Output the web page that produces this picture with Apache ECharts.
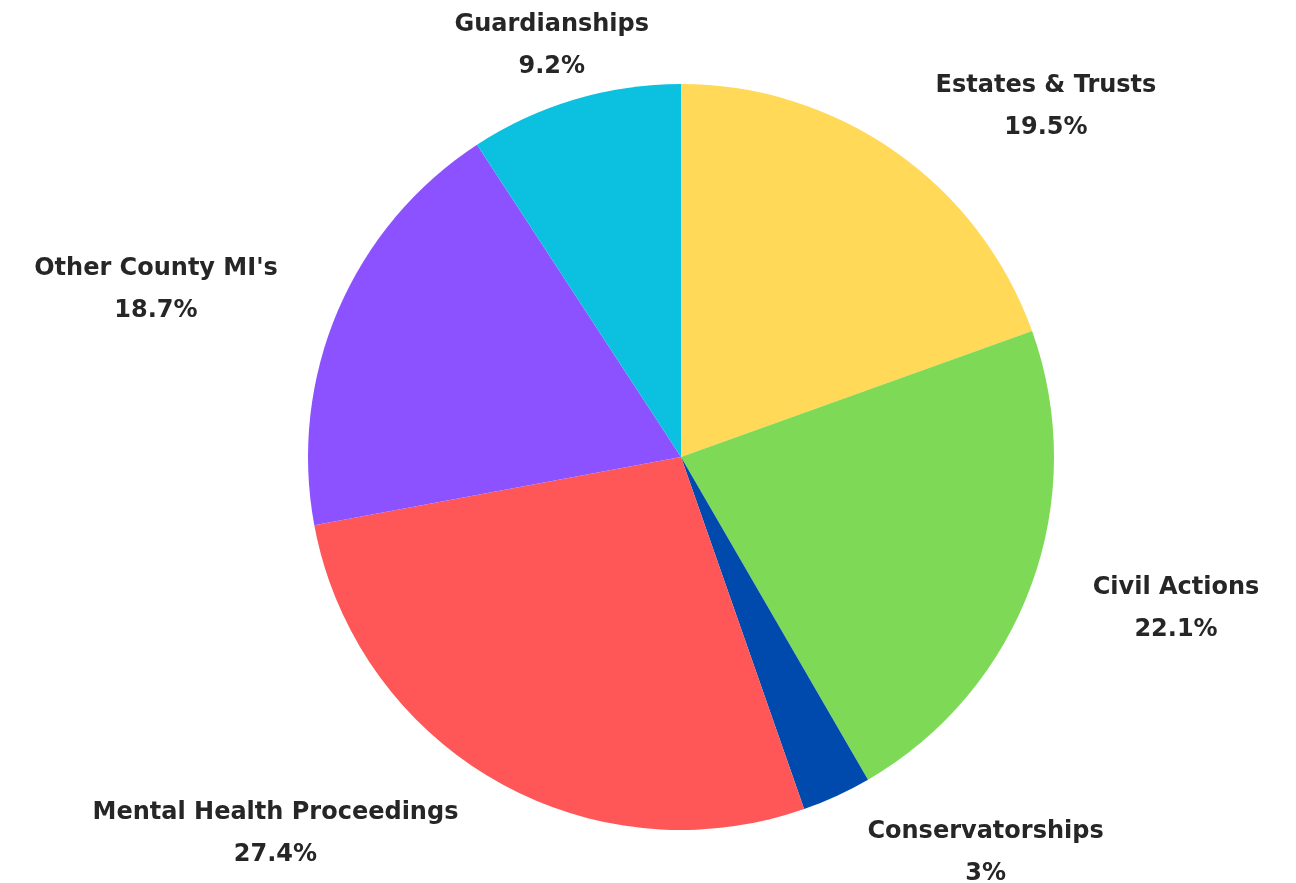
<!DOCTYPE html>
<html>
<head>
<meta charset="utf-8">
<script src="https://cdn.jsdelivr.net/npm/echarts@6/dist/echarts.min.js"></script>
<style>
html,body{margin:0;padding:0;background:#fff;}
#chart{width:1296px;height:883px;}
</style>
</head>
<body>
<div id="chart"></div>
<script>
const categories = ['Estates & Trusts', 'Civil Actions', 'Conservatorships', 'Mental Health Proceedings', "Other County MI's", 'Guardianships'];
const values = [19.5, 22.1, 3, 27.4, 18.7, 9.2];
const labels = ['19.5%', '22.1%', '3%', '27.4%', '18.7%', '9.2%'];
const colors = ['#FFD957', '#7ED957', '#004AAD', '#FF5757', '#8C52FF', '#0CC0DF'];

const total = values.reduce((a, b) => a + b, 0);
const midSin = values.map((v, i) => {
  const before = values.slice(0, i).reduce((a, b) => a + b, 0);
  const f = (before + v / 2) / total;
  return Math.sin(f * 2 * Math.PI);
});

const chart = echarts.init(document.getElementById('chart'));
chart.setOption({
  backgroundColor: '#ffffff',
  animation: false,
  series: [{
    type: 'pie',
    center: [681, 457],
    radius: 373,
    startAngle: 90,
    clockwise: true,
    avoidLabelOverlap: false,
    data: categories.map((c, i) => ({ name: c, value: values[i], itemStyle: { color: colors[i] } })),
    label: {
      show: true,
      position: 'outside',
      overflow: 'none',
      formatter: p => p.name + '\n' + labels[p.dataIndex],
      fontFamily: 'DejaVu Sans',
      fontWeight: 'bold',
      fontSize: 24,
      lineHeight: 42,
      color: '#262626',
      distanceToLabelLine: 6
    },
    labelLine: { show: false, length: 59, length2: 0 },
    labelLayout: function (params) {
      const r = params.labelRect;
      const s = midSin[params.dataIndex];
      let x;
      if (Math.abs(s) < 0.35) {
        x = s < 0 ? r.x + r.width : r.x;
      } else {
        x = r.x + r.width / 2;
      }
      return { x: x, y: r.y + r.height / 2 + 3, align: 'center', verticalAlign: 'middle' };
    }
  }]
});
</script>
</body>
</html>
